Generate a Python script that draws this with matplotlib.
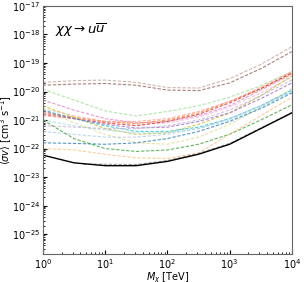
import numpy as np
import matplotlib

matplotlib.use("Agg")
import matplotlib.pyplot as plt

# dark-matter mass grid [TeV]
mass_tev = [1, 3.16, 10, 31.6, 100, 316, 1000, 3160, 10000]

# log10 <sigma v> [cm^3 s^-1] for each target (tab20 colours)
limits = {
    "#c49c94": [-19.68, -19.62, -19.60, -19.68, -19.86, -19.88, -19.55, -19.05, -18.43],
    "#8c564b": [-19.78, -19.74, -19.72, -19.78, -19.95, -19.97, -19.70, -19.20, -18.60],
    "#98df8a": [-19.92, -20.30, -20.68, -20.86, -20.70, -20.50, -20.20, -19.80, -19.30],
    "#e377c2": [-20.30, -20.65, -20.95, -21.10, -21.05, -20.85, -20.50, -19.95, -19.40],
    "#f7b6d2": [-20.60, -20.85, -21.05, -21.15, -21.10, -20.90, -20.55, -20.05, -19.50],
    "#ff7f0e": [-20.75, -20.90, -21.05, -21.12, -21.00, -20.75, -20.35, -19.90, -19.35],
    "#d62728": [-20.80, -20.95, -21.10, -21.20, -21.05, -20.80, -20.40, -19.90, -19.35],
    "#ff9896": [-20.85, -20.95, -21.05, -21.05, -20.95, -20.70, -20.35, -19.85, -19.30],
    "#bcbd22": [-20.50, -20.90, -21.30, -21.50, -21.45, -21.15, -20.75, -20.15, -19.45],
    "#dbdb8d": [-20.60, -21.10, -21.50, -21.80, -21.85, -21.60, -21.15, -20.55, -19.90],
    "#17becf": [-20.65, -20.95, -21.20, -21.40, -21.40, -21.25, -20.95, -20.50, -19.95],
    "#9edae5": [-21.00, -21.20, -21.35, -21.45, -21.45, -21.30, -21.00, -20.55, -20.00],
    "#9467bd": [-20.70, -20.95, -21.15, -21.28, -21.25, -21.05, -20.75, -20.25, -19.70],
    "#c5b0d5": [-21.20, -21.25, -21.30, -21.30, -21.20, -21.00, -20.65, -20.15, -19.60],
    "#aec7e8": [-21.40, -21.50, -21.60, -21.60, -21.50, -21.30, -20.95, -20.50, -20.00],
    "#1f77b4": [-21.80, -21.82, -21.85, -21.80, -21.65, -21.40, -21.05, -20.60, -20.05],
    "#2ca02c": [-21.00, -21.65, -22.00, -22.10, -22.05, -21.85, -21.50, -21.00, -20.47],
    "#ffbb78": [-22.00, -22.05, -22.20, -22.33, -22.35, -22.15, -21.50, -20.85, -20.20],
}
gray_mass = [4.5, 10, 31.6, 100, 316, 1000, 3160, 10000]
gray_limit = [-22.55, -22.55, -22.56, -22.42, -22.17, -21.82, -21.28, -20.73]
combined = [-22.23, -22.50, -22.60, -22.60, -22.45, -22.20, -21.85, -21.30, -20.75]

fig = plt.figure(figsize=(3.04, 2.82), dpi=100)
ax = fig.add_axes([0.141, 0.099, 0.819, 0.880])

for color, vals in limits.items():
    ax.plot(mass_tev, 10.0 ** np.array(vals), ls=(0, (3, 1.5)), lw=0.8,
            color=color, alpha=0.75)
ax.plot(gray_mass, 10.0 ** np.array(gray_limit), ls=(0, (3, 1.5)), lw=0.8,
        color="#7f7f7f", alpha=0.75)
ax.plot(mass_tev, 10.0 ** np.array(combined), color="black", lw=1.0)

ax.set_xscale("log")
ax.set_yscale("log")
ax.set_xlim(1, 1e4)
ax.set_ylim(2e-26, 1e-17)
ax.tick_params(which="both", direction="in", labelsize=7, pad=2)
ax.tick_params(which="major", length=3)
ax.tick_params(which="minor", length=1.5)
ax.set_xlabel(r"$M_\chi$ [TeV]", fontsize=7, labelpad=0)
ax.set_ylabel(r"$\langle\sigma v\rangle$ [cm$^3$ s$^{-1}$]", fontsize=7)
ax.yaxis.set_label_coords(-0.115, 0.5)
ax.text(0.05, 0.90, r"$\chi\chi\rightarrow u\overline{u}$", fontsize=9.5,
        transform=ax.transAxes, va="center")
for s in ax.spines.values():
    s.set_color("0.4")

fig.savefig("out.png", dpi=100)
